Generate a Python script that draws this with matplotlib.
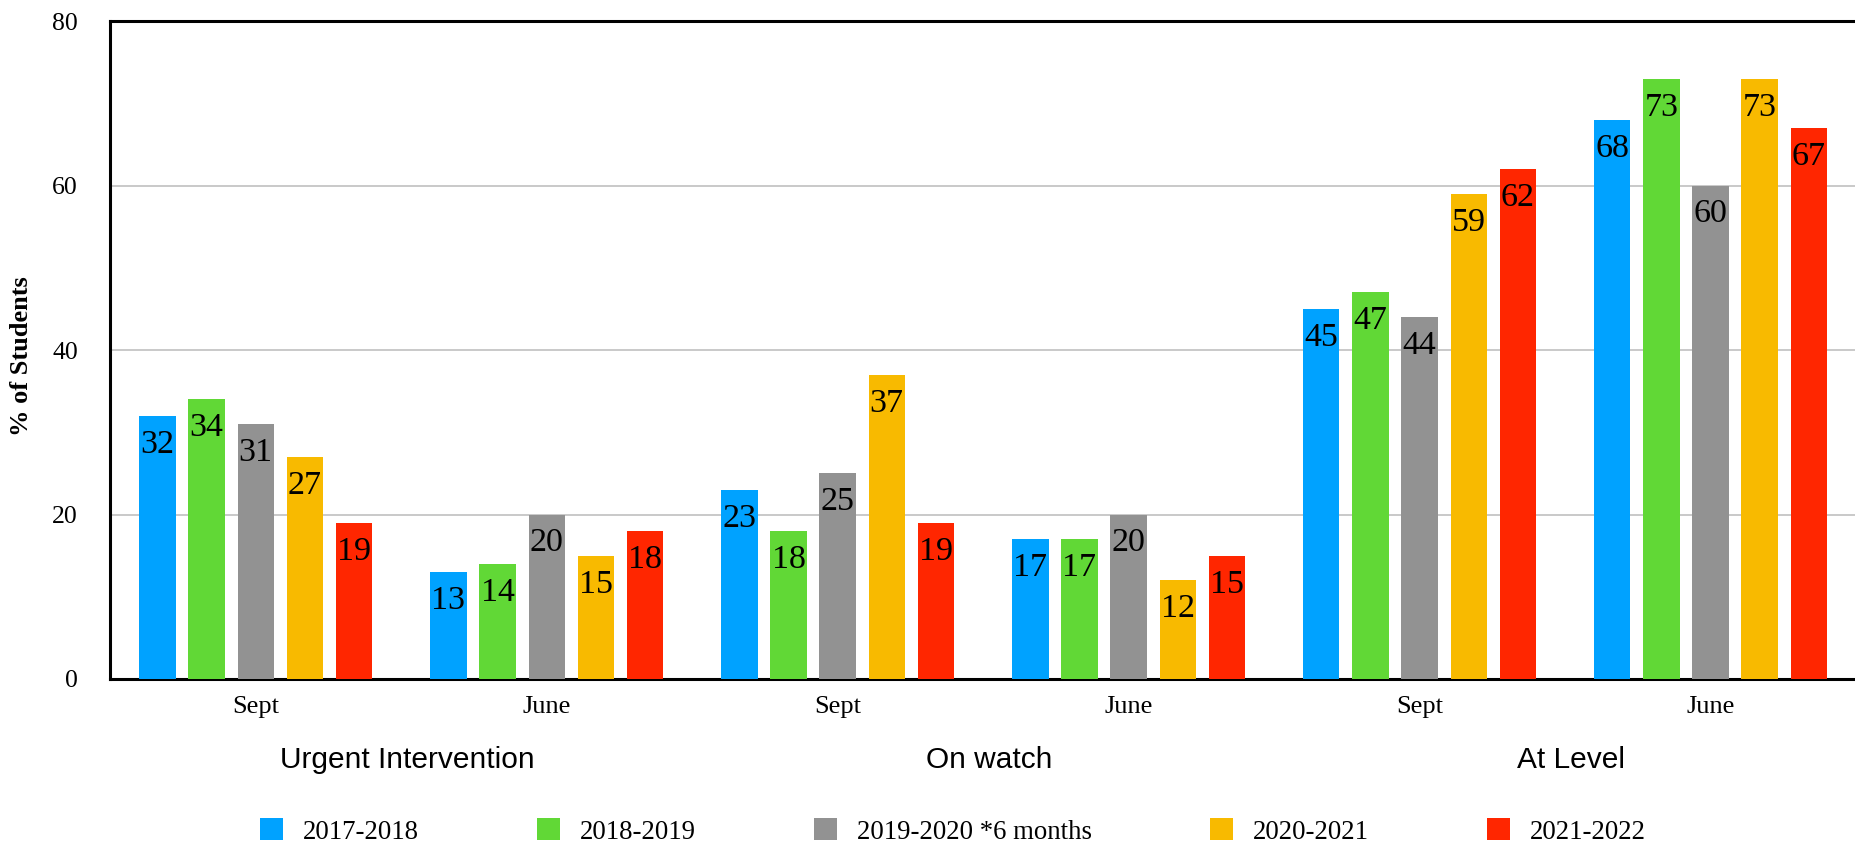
import numpy as np
import matplotlib
matplotlib.use("Agg")
import matplotlib.pyplot as plt

# Screening results, % of students per year
periods = ["Sept", "June", "Sept", "June", "Sept", "June"]
categories = ["Urgent Intervention", "On watch", "At Level"]
years = ["2017-2018", "2018-2019", "2019-2020 *6 months", "2020-2021", "2021-2022"]

y2017 = [32, 13, 23, 17, 45, 68]
y2018 = [34, 14, 18, 17, 47, 73]
y2019 = [31, 20, 25, 20, 44, 60]
y2020 = [27, 15, 37, 12, 59, 73]
y2021 = [19, 18, 19, 15, 62, 67]
series = [y2017, y2018, y2019, y2020, y2021]

colors = ["#00A2FF", "#61D836", "#929292", "#F8BA00", "#FF2600"]

serif = "Liberation Serif"
sans = "Liberation Sans"

fig = plt.figure(figsize=(18.56, 8.44), dpi=100)
ax = fig.add_axes([0.0593, 0.1955, 0.9407, 0.7796])

x = np.arange(len(periods))
step = 0.1685
width = 0.124

for i, (vals, c, name) in enumerate(zip(series, colors, years)):
    pos = x + (i - 2) * step
    bars = ax.bar(pos, vals, width, color=c, label=name, zorder=3)
    for b, v in zip(bars, vals):
        ax.annotate(str(v), (b.get_x() + b.get_width() / 2, v),
                    xytext=(0, -26.6), textcoords="offset points",
                    ha="center", va="baseline", fontsize=24.5,
                    family=serif, zorder=4)

ax.set_xlim(-0.5, len(periods) - 0.5)
ax.set_ylim(0, 80)
ax.set_yticks([0, 20, 40, 60, 80])
ax.set_xticks(x)
ax.set_xticklabels(periods)
ax.tick_params(axis="y", length=0, pad=23, labelsize=18.5)
ax.tick_params(axis="x", length=0, pad=12.5, labelsize=19)
for lab in ax.get_xticklabels() + ax.get_yticklabels():
    lab.set_family(serif)

ax.grid(axis="y", color="#C0C0C0", linewidth=1.2, zorder=0)
for s in ["left", "bottom", "top"]:
    ax.spines[s].set_linewidth(2.2)
    ax.spines[s].set_color("black")
ax.spines["right"].set_visible(False)

ax.set_ylabel("% of Students", family=serif, fontweight="bold", fontsize=19,
              va="center")
ax.yaxis.set_label_coords(-0.0505, 0.49)

# group labels under the month labels
for k, cat in enumerate(categories):
    ax.text(2 * k + 0.52, -0.123, cat, transform=ax.get_xaxis_transform(),
            ha="center", va="center", fontsize=21.5, family=sans)

fig.legend(loc="center", bbox_to_anchor=(0.5135, 0.0148), ncol=5,
           frameon=False, prop={"family": serif, "size": 19.3},
           handlelength=0.86, handleheight=0.86, handletextpad=0.75,
           columnspacing=4.4, borderpad=0)

fig.savefig("out.png", dpi=100)
